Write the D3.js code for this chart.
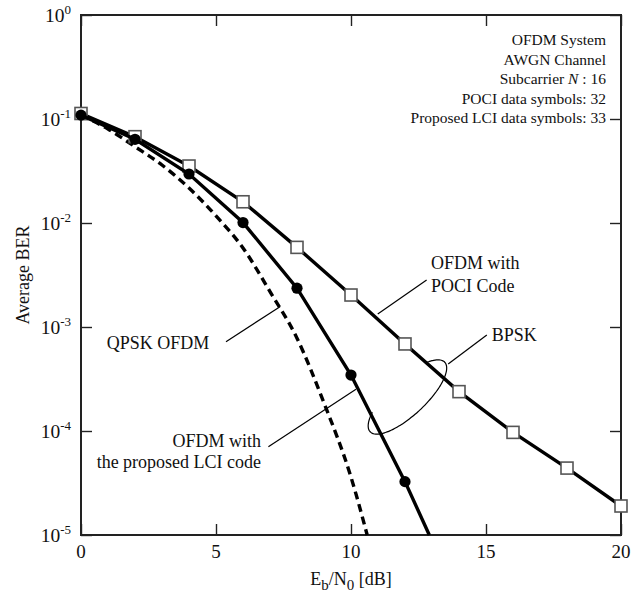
<!DOCTYPE html>
<html lang="en">
<head>
<meta charset="UTF-8">
<title>Average BER vs Eb/N0</title>
<style>
    body { margin: 0; background: #fff; }
    svg text { font-family: "Liberation Serif", "Times New Roman", serif; fill: #111; }
</style>
<script src="https://d3js.org/d3.v7.min.js"></script>
</head>
<body>
<div id="chart"></div>
<script>
    // data
    const ebno = [0, 2, 4, 6, 8, 10, 12, 14, 16, 18, 20]
    const pociBer = [0.113, 0.0676, 0.0353, 0.016, 0.00583, 0.00203, 0.000687, 0.000239, 9.7e-5, 4.4e-5, 1.9e-5]

    const lciEbno = [0, 2, 4, 6, 8, 10, 12]
    const lciBer = [0.109, 0.0638, 0.0296, 0.0101, 0.00236, 0.000345, 3.26e-5]
    // line keeps going down to the bottom of the frame
    const lciTail = [12.9, 1e-5]

    const qpskEbno = [0, 1, 2, 3, 4, 5, 6, 7, 8, 9, 10, 10.6]
    const qpskBer = [0.109, 0.080, 0.0542, 0.0361, 0.0217, 0.0117, 0.00575, 0.00219, 0.00078, 1.86e-4, 3.6e-5, 1e-5]

    const xTicks = [0, 5, 10, 15, 20]
    const yTicks = [1, 1e-1, 1e-2, 1e-3, 1e-4, 1e-5]
    const yExps = ["0", "-1", "-2", "-3", "-4", "-5"]

    const infoLines = ["OFDM System", "AWGN Channel", "Subcarrier N : 16", "POCI data symbols: 32", "Proposed LCI data symbols: 33"]

    // annotations, given as [Eb/N0, log10 BER]
    const labels = [
        {text: "QPSK OFDM", at: [0.95, -3.207], anchor: "start"},
        {text: "OFDM with", at: [6.67, -4.154], anchor: "end"},
        {text: "the proposed LCI code", at: [6.67, -4.351], anchor: "end"},
        {text: "OFDM with", at: [12.96, -2.447], anchor: "start"},
        {text: "POCI Code", at: [12.96, -2.663], anchor: "start"},
        {text: "BPSK", at: [15.21, -3.135], anchor: "start"}
    ]
    const leaders = [
        [[5.37, -3.141], [7.37, -2.805]],
        [[6.94, -4.151], [10.185, -3.599]],
        [[10.99, -2.875], [12.80, -2.548]],
        [[13.60, -3.356], [15.03, -3.077]]
    ]
    const ellipseCenter = [12.09, -3.673]

    const W = 640, H = 596
    const margin = {top: 15, right: 19, bottom: 61, left: 81}
    const width = W - margin.left - margin.right
    const height = H - margin.top - margin.bottom

    const svg = d3.select("#chart").append("svg")
        .attr("width", W).attr("height", H)

    const g = svg.append("g")
        .attr("transform", `translate(${margin.left},${margin.top})`)

    const x = d3.scaleLinear().domain([0, 20]).range([0, width])
    const y = d3.scaleLog().domain([1e-5, 1]).range([height, 0])
    const px = d => [x(d[0]), y(Math.pow(10, d[1]))]

    // inward ticks on all four sides
    const tickStyle = sel => {
        sel.select(".domain").remove()
        sel.selectAll("line").attr("stroke", "#222").attr("stroke-width", 1.4)
    }
    g.append("g").attr("transform", `translate(0,${height})`)
        .call(d3.axisBottom(x).tickValues(xTicks).tickSize(-11).tickFormat(""))
        .call(tickStyle)
    g.append("g")
        .call(d3.axisTop(x).tickValues(xTicks).tickSize(-11).tickFormat(""))
        .call(tickStyle)
    g.append("g")
        .call(d3.axisLeft(y).tickValues(yTicks).tickSize(-11).tickFormat(""))
        .call(tickStyle)
    g.append("g").attr("transform", `translate(${width},0)`)
        .call(d3.axisRight(y).tickValues(yTicks).tickSize(-11).tickFormat(""))
        .call(tickStyle)

    // frame
    g.append("rect")
        .attr("width", width).attr("height", height)
        .attr("fill", "none").attr("stroke", "#222").attr("stroke-width", 2)

    // tick labels
    g.selectAll(".xlab").data(xTicks).join("text")
        .attr("x", d => x(d)).attr("y", height + 23)
        .attr("text-anchor", "middle").style("font-size", "19px")
        .text(d => d)

    yTicks.forEach((v, i) => {
        const t = g.append("text")
            .attr("x", -10).attr("y", y(v) + 7)
            .attr("text-anchor", "end").style("font-size", "19.5px")
        t.append("tspan").text("10")
        t.append("tspan").attr("dy", -8).style("font-size", "13px").text(yExps[i])
    })

    // axis titles
    const xt = g.append("text")
        .attr("x", width / 2).attr("y", height + 50)
        .attr("text-anchor", "middle").style("font-size", "18px")
    xt.append("tspan").text("E")
    xt.append("tspan").attr("dy", 5).style("font-size", "15px").text("b")
    xt.append("tspan").attr("dy", -5).text("/N")
    xt.append("tspan").attr("dy", 5).style("font-size", "15px").text("0")
    xt.append("tspan").attr("dy", -5).text(" [dB]")

    g.append("text")
        .attr("transform", `translate(${29 - margin.left},${height / 2}) rotate(-90)`)
        .attr("text-anchor", "middle").style("font-size", "18px")
        .text("Average BER")

    // curves
    const qpsk = qpskEbno.map((e, i) => [e, qpskBer[i]])
    const poci = ebno.map((e, i) => [e, pociBer[i]])
    const lci = lciEbno.map((e, i) => [e, lciBer[i]])

    const line = d3.line().x(d => x(d[0])).y(d => y(d[1]))

    g.append("path")
        .attr("d", line.curve(d3.curveMonotoneX)(qpsk))
        .attr("fill", "none").attr("stroke", "#000")
        .attr("stroke-width", 3.4).attr("stroke-dasharray", "8,5")
    line.curve(d3.curveLinear)

    g.append("path").attr("d", line(poci))
        .attr("fill", "none").attr("stroke", "#000").attr("stroke-width", 3.4)
    g.selectAll(".sq").data(poci).join("rect")
        .attr("x", d => x(d[0]) - 6).attr("y", d => y(d[1]) - 6)
        .attr("width", 12).attr("height", 12)
        .attr("fill", "#fff").attr("stroke", "#555").attr("stroke-width", 1.6)

    g.append("path").attr("d", line(lci.concat([lciTail])))
        .attr("fill", "none").attr("stroke", "#000").attr("stroke-width", 3.4)
    g.selectAll(".dot").data(lci).join("circle")
        .attr("cx", d => x(d[0])).attr("cy", d => y(d[1]))
        .attr("r", 5.6).attr("fill", "#000")

    // annotations
    leaders.forEach(l => {
        const a = px(l[0]), b = px(l[1])
        g.append("line")
            .attr("x1", a[0]).attr("y1", a[1]).attr("x2", b[0]).attr("y2", b[1])
            .attr("stroke", "#000").attr("stroke-width", 1.2)
    })

    // open ellipse grouping the BPSK curves
    const c = px(ellipseCenter), ra = 51, rb = 18, rot = -43 * Math.PI / 180
    const arcPts = d3.range(-45, 226, 3).map(t => {
        const r = t * Math.PI / 180
        const u = ra * Math.cos(r), v = rb * Math.sin(r)
        return [c[0] + u * Math.cos(rot) - v * Math.sin(rot), c[1] + u * Math.sin(rot) + v * Math.cos(rot)]
    })
    g.append("path").attr("d", d3.line().curve(d3.curveBasis)(arcPts))
        .attr("fill", "none").attr("stroke", "#000").attr("stroke-width", 1.2)

    labels.forEach(l => {
        const p = px(l.at)
        g.append("text").attr("x", p[0]).attr("y", p[1])
            .attr("text-anchor", l.anchor).style("font-size", "18px")
            .text(l.text)
    })

    // info block, top right
    const info = g.append("g").attr("text-anchor", "end").style("font-size", "15.5px")
    infoLines.forEach((s, i) => {
        const t = info.append("text").attr("x", width - 15).attr("y", 30 + i * 19.5)
        if (s.indexOf(" N ") > 0) {
            const parts = s.split(" N ")
            t.append("tspan").text(parts[0] + " ")
            t.append("tspan").style("font-style", "italic").text("N")
            t.append("tspan").text(" " + parts[1])
        } else {
            t.text(s)
        }
    })
</script>
</body>
</html>
